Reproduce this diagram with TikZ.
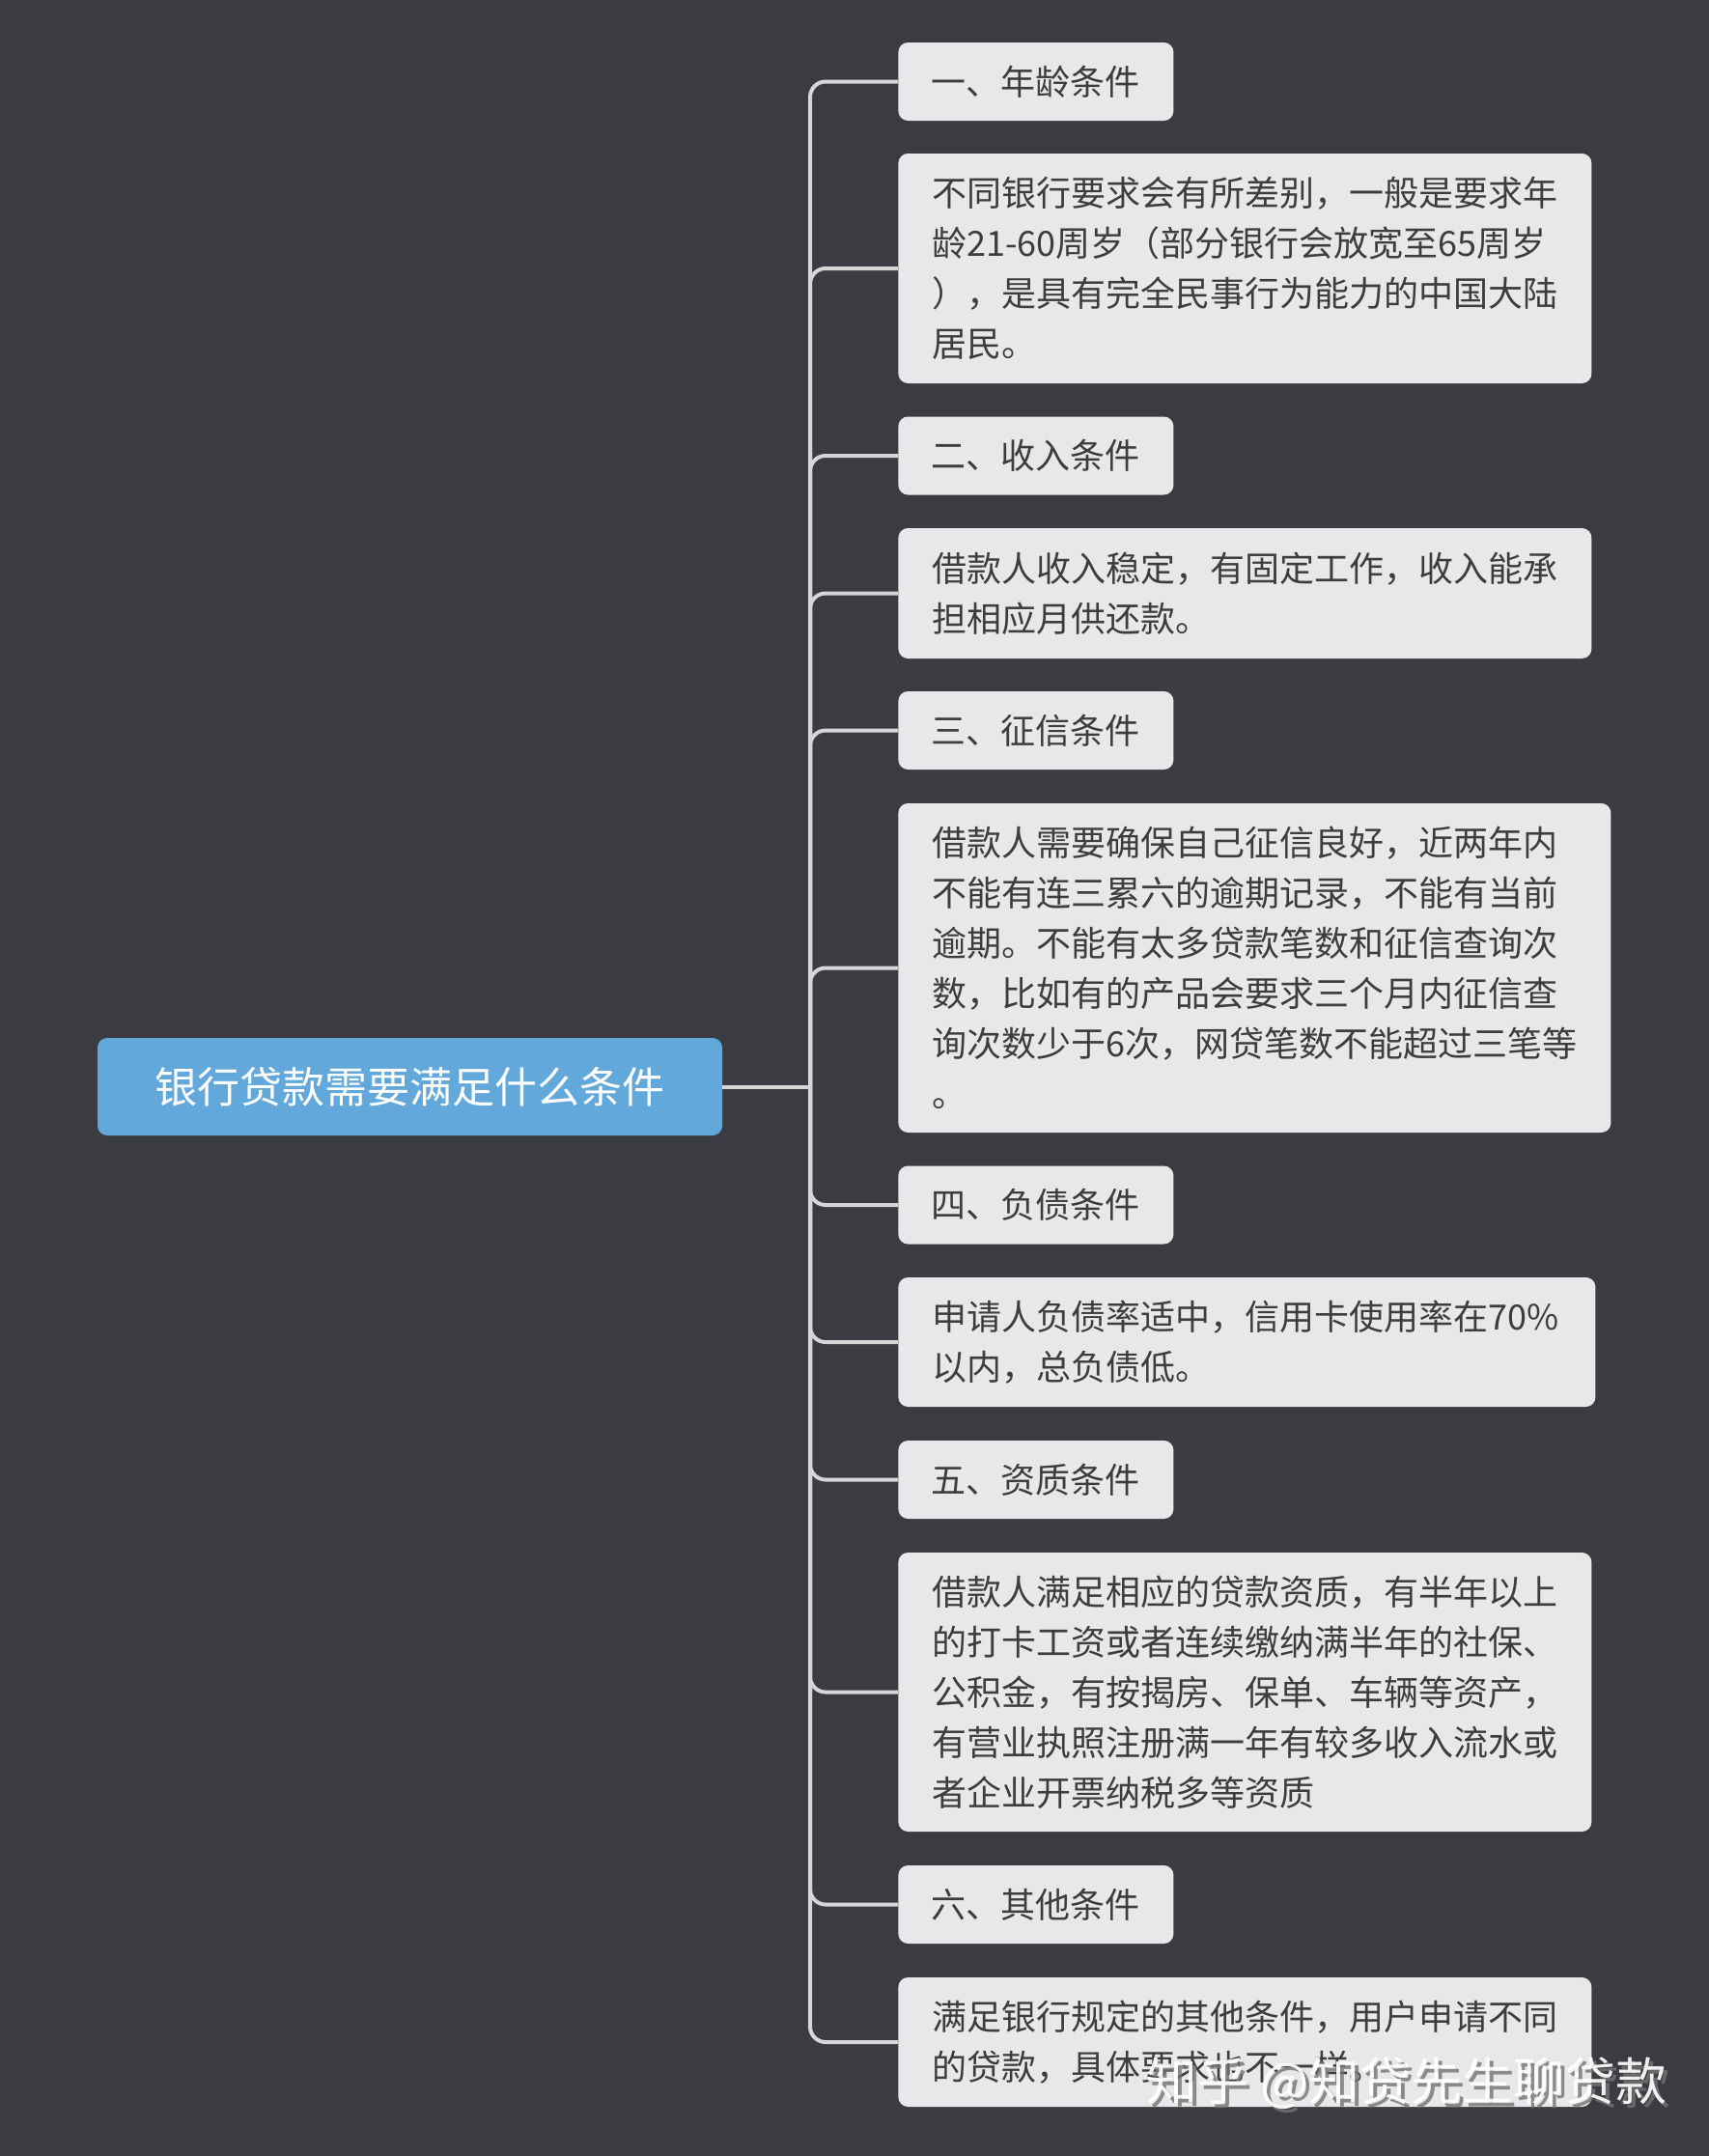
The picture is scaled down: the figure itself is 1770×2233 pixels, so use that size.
\documentclass[tikz,border=0pt]{standalone}
\usepackage{fontspec}
\newfontfamily\cjk{Noto Sans CJK SC}
\definecolor{bgc}{HTML}{3B3C42}
\definecolor{rootc}{HTML}{63A8DB}
\definecolor{boxc}{HTML}{E8E8EA}
\definecolor{linec}{HTML}{D6D6D6}
\definecolor{txtc}{HTML}{3D3D3D}
\tikzset{
  rootbox/.style={fill=rootc, rounded corners=5pt, text=white, font=\cjk\fontsize{22}{28}\selectfont, minimum width=323.5pt, minimum height=50.5pt, inner sep=0pt},
  titlebox/.style={fill=boxc, rounded corners=5pt, text=txtc, font=\cjk\fontsize{18}{26}\selectfont, anchor=west, inner xsep=17pt, inner ysep=0pt, text width=108.5pt, align=left, minimum height=40.5pt},
  descbox/.style={fill=boxc, rounded corners=5pt, text=txtc, font=\cjk\fontsize{18}{26}\selectfont, anchor=west, inner xsep=17.5pt, inner ysep=0pt, text width=#1, align=left},
  conn/.style={draw=linec, line width=2pt},
  wm/.style={font=\cjk\fontsize{26.5}{30}\selectfont, inner sep=0pt}
}
\begin{document}
\begin{tikzpicture}[x=0.5pt,y=-0.5pt]
\fill[bgc] (0,0) rectangle (1770,2233);
\useasboundingbox (0,0) rectangle (1770,2233);

\node[rootbox] (root) at (424.5,1125.5) {银行贷款需要满足什么条件};

\node[titlebox] (t1) at (930,84.5) {一、年龄条件};
\node[descbox=324pt, minimum height=119pt] (b1) at (930,278) {不同银行要求会有所差别，一般是要求年\\龄21-60周岁（部分银行会放宽至65周岁\\），是具有完全民事行为能力的中国大陆\\居民。};
\node[titlebox] (t2) at (930,472) {二、收入条件};
\node[descbox=324pt, minimum height=67.5pt] (b2) at (930,614.5) {借款人收入稳定，有固定工作，收入能承\\担相应月供还款。};
\node[titlebox] (t3) at (930,756.5) {三、征信条件};
\node[descbox=334pt, minimum height=170.5pt] (b3) at (930,1002.5) {借款人需要确保自己征信良好，近两年内\\不能有连三累六的逾期记录，不能有当前\\逾期。不能有太多贷款笔数和征信查询次\\数，比如有的产品会要求三个月内征信查\\询次数少于6次，网贷笔数不能超过三笔等\\。};
\node[titlebox] (t4) at (930,1248) {四、负债条件};
\node[descbox=326pt, minimum height=67pt] (b4) at (930,1390) {申请人负债率适中，信用卡使用率在70\%\\以内，总负债低。};
\node[titlebox] (t5) at (930,1532.5) {五、资质条件};
\node[descbox=324pt, minimum height=144.5pt] (b5) at (930,1752.5) {借款人满足相应的贷款资质，有半年以上\\的打卡工资或者连续缴纳满半年的社保、\\公积金，有按揭房、保单、车辆等资产，\\有营业执照注册满一年有较多收入流水或\\者企业开票纳税多等资质};
\node[titlebox] (t6) at (930,1972.5) {六、其他条件};
\node[descbox=324pt, minimum height=67pt] (b6) at (930,2115) {满足银行规定的其他条件，用户申请不同\\的贷款，具体要求也不一样。};

\coordinate (trunk) at (839,1125.5);
\draw[conn] (root.east) -- (trunk);
\foreach \n in {t1,b1,t2,b2,t3,b3,t4,b4,t5,b5,t6,b6}
  \draw[conn, rounded corners=8pt] (trunk) |- (\n.west);

\node[wm, text=black!55, opacity=0.8] (wmshadow) at (1461,2162) {知乎 @知贷先生聊贷款};
\node[wm, text=white, opacity=0.92] (wm) at (1457,2158) {知乎 @知贷先生聊贷款};
\end{tikzpicture}
\end{document}
